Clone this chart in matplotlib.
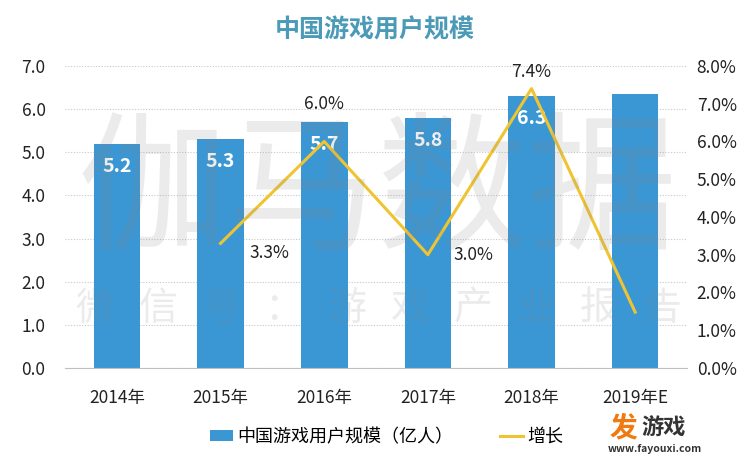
import matplotlib
matplotlib.use('Agg')
import matplotlib.pyplot as plt
from matplotlib.ticker import FuncFormatter

plt.rcParams['font.family'] = ['Noto Sans CJK SC', 'DejaVu Sans']

# data
years = ['2014年', '2015年', '2016年', '2017年', '2018年', '2019年E']
users = [5.2, 5.3, 5.7, 5.8, 6.3, 6.36]
user_labels = ['5.2', '5.3', '5.7', '5.8', '6.3', '']
growth_years = ['2015年', '2016年', '2017年', '2018年', '2019年E']
growth = [3.3, 6.0, 3.0, 7.4, 1.48]
growth_labels = ['3.3%', '6.0%', '3.0%', '7.4%', '']
# label offsets in points (right of / above the point, like the original)
growth_offsets = [(35, -7), (0, 27), (33, 0), (0, 12), (0, 0)]

bar_color = '#3a97d4'
line_color = '#f0c430'
text_color = '#222222'

fig = plt.figure(figsize=(7.5, 4.61), dpi=100)
ax = fig.add_axes([0.0867, 0.2017, 0.8293, 0.6553])
x = list(range(len(years)))
bars = ax.bar(x, users, width=0.45, color=bar_color, zorder=2, label='中国游戏用户规模（亿人）')
ax.set_xlim(-0.5, len(years) - 0.5)
ax.set_ylim(0, 7)
ax.set_yticks(range(8))
ax.yaxis.set_major_formatter(FuncFormatter(lambda v, p: f'{v:.1f}'))
ax.set_xticks(x)
ax.set_xticklabels(years)
ax.grid(axis='y', color='#c8c8c8', linestyle=(0, (1, 1.5)), linewidth=0.8, zorder=0)
for s in ['top', 'right', 'left']:
    ax.spines[s].set_visible(False)
ax.spines['bottom'].set_color('#bfbfbf')
ax.tick_params(length=0, labelsize=12.5, colors=text_color)
ax.tick_params(axis='y', pad=14)
ax.tick_params(axis='x', pad=15)

for b, lab in zip(bars, user_labels):
    if lab:
        ax.text(b.get_x() + b.get_width() / 2, b.get_height() - 0.52, lab,
                ha='center', va='center', color='white', fontsize=14, fontweight='bold', zorder=5)

ax2 = ax.twinx()
gx = [years.index(g) for g in growth_years]
ax2.plot(gx, growth, color=line_color, linewidth=2.2, zorder=3, label='增长')
ax2.set_ylim(0, 8)
ax2.set_yticks(range(9))
ax2.yaxis.set_major_formatter(FuncFormatter(lambda v, p: f'{v:.1f}%'))
for s in ['top', 'right', 'left', 'bottom']:
    ax2.spines[s].set_visible(False)
ax2.tick_params(length=0, labelsize=12.5, colors=text_color, pad=7)

for xi, g, lab, off in zip(gx, growth, growth_labels, growth_offsets):
    if lab:
        ax2.annotate(lab, (xi, g), xytext=off, textcoords='offset points',
                     ha='center', va='center', fontsize=12.5, color=text_color)

# faint watermarks over the plot
fig.text(0.503, 0.577, '伽马数据', ha='center', va='center', fontsize=108,
         color='#888888', alpha=0.16, zorder=10)
mark = '微信号：游戏产业报告'
for i, ch in enumerate(mark):
    fig.text((95 + i * 63) / 750, 0.33, ch, ha='center', va='center', fontsize=28,
             color='#888888', alpha=0.16, zorder=10)

fig.text(0.5, 0.935, '中国游戏用户规模', ha='center', va='center', fontsize=18,
         fontweight='bold', color='#4a9ab8')

h1, l1 = ax.get_legend_handles_labels()
h2, l2 = ax2.get_legend_handles_labels()
fig.legend(h1 + h2, l1 + l2, loc='center', bbox_to_anchor=(0.515, 0.052), ncol=2, frameon=False,
           fontsize=13, handlelength=1.3, handleheight=0.6, columnspacing=2.6, handletextpad=0.2)

# site logo bottom right
fig.text(0.813, 0.07, '发', ha='left', va='center', fontsize=20, fontweight='bold', color='#f07a10')
fig.text(0.855, 0.07, '游戏', ha='left', va='center', fontsize=16, fontweight='bold', color='#333333')
fig.text(0.873, 0.027, 'www.fayouxi.com', ha='center', va='center', fontsize=7.5, fontweight='bold',
         color='#333333')

fig.savefig('out.png', dpi=100)
